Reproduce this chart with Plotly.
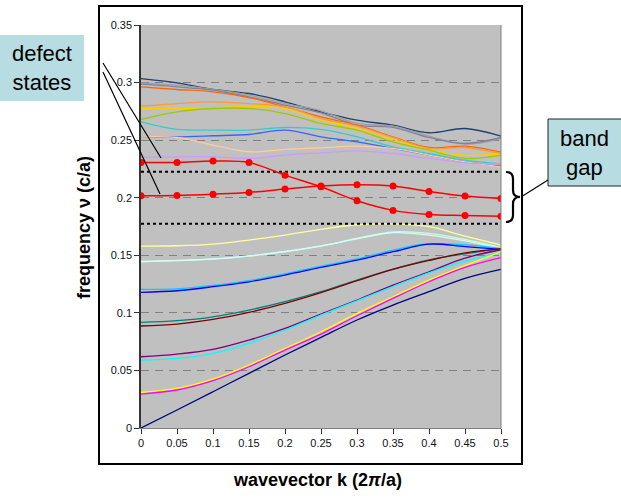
import plotly.graph_objects as go

k = [0, 0.05, 0.1, 0.15, 0.2, 0.25, 0.3, 0.35, 0.4, 0.45, 0.5]

# regular bands: (color, values)
bands_upper = [
    ("#1f3f6f", [0.3035, 0.2998, 0.2940, 0.2905, 0.2833, 0.2746, 0.2674, 0.2630, 0.2564, 0.2601, 0.2535]),
    ("#a0a0a0", [0.2998, 0.2977, 0.2940, 0.2891, 0.2818, 0.2755, 0.2645, 0.2621, 0.2535, 0.2465, 0.2514]),
    ("#8080a0", [0.2986, 0.2963, 0.2934, 0.2876, 0.2804, 0.2737, 0.2630, 0.2610, 0.2523, 0.2471, 0.2523]),
    ("#ff6600", [0.2963, 0.2940, 0.2920, 0.2870, 0.2789, 0.2702, 0.2630, 0.2529, 0.2436, 0.2448, 0.2396]),
    ("#ff9933", [0.2795, 0.2818, 0.2833, 0.2818, 0.2789, 0.2688, 0.2621, 0.2523, 0.2428, 0.2436, 0.2384]),
    ("#ffcc00", [0.2775, 0.2775, 0.2781, 0.2795, 0.2775, 0.2674, 0.2601, 0.2506, 0.2413, 0.2370, 0.2378]),
    ("#99cc00", [0.2679, 0.2746, 0.2775, 0.2775, 0.2731, 0.2645, 0.2587, 0.2485, 0.2413, 0.2341, 0.2370]),
    ("#33cccc", [0.2659, 0.2593, 0.2587, 0.2587, 0.2610, 0.2593, 0.2529, 0.2442, 0.2384, 0.2326, 0.2292]),
    ("#3366ff", [0.2529, 0.2529, 0.2538, 0.2549, 0.2587, 0.2529, 0.2485, 0.2428, 0.2370, 0.2312, 0.2274]),
    ("#ffcc99", [0.2529, 0.2523, 0.2457, 0.2399, 0.2419, 0.2433, 0.2448, 0.2428, 0.2370, 0.2312, 0.2268]),
    ("#cc99ff", [0.2350, 0.2355, 0.2355, 0.2341, 0.2370, 0.2390, 0.2407, 0.2384, 0.2341, 0.2303, 0.2292]),
]

bands_lower = [
    ("#ffff99", [0.1580, 0.1583, 0.1597, 0.1632, 0.1675, 0.1725, 0.1765, 0.1772, 0.1748, 0.1667, 0.1589]),
    ("#ccffcc", [0.1444, 0.1453, 0.1467, 0.1493, 0.1531, 0.1580, 0.1646, 0.1704, 0.1690, 0.1638, 0.1568]),
    ("#ccffff", [0.1446, 0.1455, 0.1469, 0.1495, 0.1533, 0.1582, 0.1642, 0.1696, 0.1675, 0.1625, 0.1562]),
    ("#00ccff", [0.1204, 0.1209, 0.1238, 0.1280, 0.1338, 0.1406, 0.1468, 0.1545, 0.1600, 0.1590, 0.1560]),
    ("#0000ff", [0.1178, 0.1192, 0.1227, 0.1270, 0.1328, 0.1395, 0.1458, 0.1531, 0.1597, 0.1575, 0.1551]),
    ("#008080", [0.0917, 0.0932, 0.0966, 0.1024, 0.1097, 0.1184, 0.1285, 0.1380, 0.1460, 0.1512, 0.1558]),
    ("#800000", [0.0886, 0.0903, 0.0943, 0.1004, 0.1082, 0.1175, 0.1279, 0.1377, 0.1455, 0.1520, 0.1555]),
    ("#800080", [0.0619, 0.0642, 0.0683, 0.0764, 0.0865, 0.0990, 0.1111, 0.1241, 0.1357, 0.1475, 0.1548]),
    ("#00ffff", [0.0590, 0.0605, 0.0648, 0.0735, 0.0851, 0.0981, 0.1105, 0.1227, 0.1348, 0.1450, 0.1520]),
    ("#ffff00", [0.0310, 0.0344, 0.0425, 0.0547, 0.0691, 0.0836, 0.0995, 0.1140, 0.1285, 0.1410, 0.1530]),
    ("#ff00ff", [0.0295, 0.0330, 0.0411, 0.0532, 0.0677, 0.0816, 0.0975, 0.1126, 0.1270, 0.1395, 0.1480]),
    ("#000080", [0.0000, 0.0156, 0.0315, 0.0475, 0.0634, 0.0787, 0.0938, 0.1068, 0.1184, 0.1299, 0.1377]),
]

defect_upper = [0.2306, 0.2306, 0.2318, 0.2306, 0.2196, 0.2095, 0.1973, 0.1890, 0.1855, 0.1846, 0.1838]
defect_lower = [0.2017, 0.2020, 0.2031, 0.2046, 0.2075, 0.2101, 0.2112, 0.2101, 0.2054, 0.2014, 0.1994]

gap_top = 0.2225
gap_bottom = 0.1774

y_ticks = [0, 0.05, 0.1, 0.15, 0.2, 0.25, 0.3, 0.35]
x_ticks = [0, 0.05, 0.1, 0.15, 0.2, 0.25, 0.3, 0.35, 0.4, 0.45, 0.5]

W, H = 621, 500
L, R, T, B = 141, 120, 25, 72
PW, PH = W - L - R, H - T - B


def px(x):
    return (x - L) / PW


def py(y):
    return (H - B - y) / PH


fig = go.Figure()

for color, vals in bands_lower + bands_upper:
    fig.add_trace(go.Scatter(x=k, y=vals, mode="lines",
                             line=dict(color=color, width=1.3, shape="spline", smoothing=1.0),
                             hoverinfo="skip", showlegend=False))

for gy in (gap_top, gap_bottom):
    fig.add_trace(go.Scatter(x=[k[0], k[-1]], y=[gy, gy], mode="lines",
                             line=dict(color="black", width=2, dash="dot"),
                             hoverinfo="skip", showlegend=False))

for vals in (defect_upper, defect_lower):
    fig.add_trace(go.Scatter(x=k, y=vals, mode="lines+markers",
                             line=dict(color="#ff0000", width=1.5, shape="spline", smoothing=1.0),
                             marker=dict(color="#ff0000", size=7),
                             hoverinfo="skip", showlegend=False))

font = "Liberation Sans, Arial, sans-serif"
box_fill = "#b7dde3"

shapes = [
    # outer chart frame
    dict(type="rect", xref="paper", yref="paper", x0=px(99), x1=px(522), y0=py(464), y1=py(6),
         line=dict(color="black", width=2), fillcolor="rgba(0,0,0,0)", layer="above"),
    # right border of plot area
    dict(type="line", xref="paper", yref="paper", x0=1, x1=1, y0=0, y1=1,
         line=dict(color="#808080", width=1)),
    # defect states box
    dict(type="rect", xref="paper", yref="paper", x0=px(0), x1=px(84), y0=py(101), y1=py(35),
         line=dict(width=0), fillcolor=box_fill),
    dict(type="line", xref="paper", yref="paper", x0=px(103), y0=py(63), x1=px(161), y1=py(158),
         line=dict(color="black", width=1.2)),
    dict(type="line", xref="paper", yref="paper", x0=px(103), y0=py(72), x1=px(160), y1=py(194),
         line=dict(color="black", width=1.2)),
    # band gap box
    dict(type="rect", xref="paper", yref="paper", x0=px(548), x1=px(624), y0=py(186), y1=py(119),
         line=dict(color="#222222", width=1), fillcolor=box_fill),
    dict(type="line", xref="paper", yref="paper", x0=px(548), y0=py(180), x1=px(521), y1=py(197),
         line=dict(color="black", width=1.2)),
]

# brace
bx0, bw, btop, bbot = 506, 14, 172, 222
bmid = (btop + bbot) / 2
bxm = bx0 + bw / 2
r = 7
pts = [
    ("M", [(bx0, btop)]),
    ("Q", [(bxm, btop), (bxm, btop + r)]),
    ("L", [(bxm, bmid - r)]),
    ("Q", [(bxm, bmid), (bx0 + bw, bmid)]),
    ("Q", [(bxm, bmid), (bxm, bmid + r)]),
    ("L", [(bxm, bbot - r)]),
    ("Q", [(bxm, bbot), (bx0, bbot)]),
]
path = " ".join(c + " " + " ".join(f"{px(a):.5f},{py(b):.5f}" for a, b in p) for c, p in pts)
shapes.append(dict(type="path", xref="paper", yref="paper", path=path,
                   line=dict(color="black", width=2.2)))

annotations = [
    dict(text="defect<br>states", xref="paper", yref="paper", x=px(42), y=py(68),
         showarrow=False, font=dict(family=font, size=22, color="black"), xanchor="center", yanchor="middle"),
    dict(text="band<br>gap", xref="paper", yref="paper", x=px(584), y=py(153),
         showarrow=False, font=dict(family=font, size=22, color="black"), xanchor="center", yanchor="middle"),
    dict(text="<b>wavevector k (2<i>π</i>/a)</b>", xref="paper", yref="paper", x=px(317), y=py(480),
         showarrow=False, font=dict(family=font, size=18, color="black"), xanchor="center", yanchor="middle"),
    dict(text="<b>frequency ν (c/a)</b>", xref="paper", yref="paper", x=px(84), y=py(228),
         showarrow=False, textangle=-90, font=dict(family=font, size=18, color="black"),
         xanchor="center", yanchor="middle"),
]

fig.update_layout(
    width=W, height=H,
    margin=dict(l=L, r=R, t=T, b=B, pad=0),
    paper_bgcolor="white", plot_bgcolor="#c0c0c0",
    font=dict(family=font, size=11, color="#111111"),
    shapes=shapes, annotations=annotations,
    xaxis=dict(range=[0, 0.5], tickvals=x_ticks, ticktext=[f"{v:g}" for v in x_ticks],
               showgrid=False, zeroline=False, showline=True, linecolor="#808080", linewidth=1,
               ticks="outside", ticklen=5, tickcolor="#333333", tickfont=dict(size=11)),
    yaxis=dict(range=[0, 0.35], tickvals=y_ticks, ticktext=[f"{v:g}" for v in y_ticks],
               showgrid=True, gridcolor="#808080", gridwidth=1, griddash="8px,6px",
               zeroline=False, showline=True, linecolor="#333333", linewidth=1.5,
               ticks="outside", ticklen=5, tickcolor="#333333", tickfont=dict(size=11)),
)

fig.write_html("out.html")
